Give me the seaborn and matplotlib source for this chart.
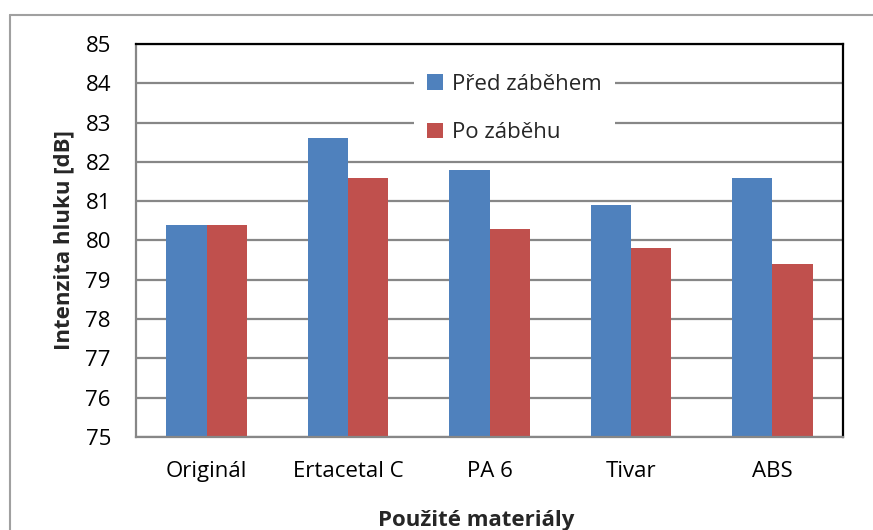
import matplotlib
matplotlib.use("Agg")
import matplotlib.pyplot as plt
import seaborn as sns
import pandas as pd
from matplotlib.lines import Line2D

categories = ["Originál", "Ertacetal C", "PA 6", "Tivar", "ABS"]
pred_zabehem = [80.4, 82.6, 81.8, 80.9, 81.6]
po_zabehu = [80.4, 81.6, 80.3, 79.8, 79.4]
series_names = ["Před záběhem", "Po záběhu"]
y_ticks = [75, 76, 77, 78, 79, 80, 81, 82, 83, 84, 85]

df = pd.DataFrame({
    "Materiál": categories * 2,
    "Hodnota": pred_zabehem + po_zabehu,
    "Série": [series_names[0]] * len(categories) + [series_names[1]] * len(categories),
})

sns.set_theme(style="white")
plt.rcParams['font.family'] = ['Open Sans', 'DejaVu Sans']

W, H = 873, 530
fig = plt.figure(figsize=(W / 100, H / 100), dpi=100)
ax = fig.add_axes([136 / W, 1 - 437 / H, (843 - 136) / W, (437 - 44) / H])

palette = {series_names[0]: "#4F81BD", series_names[1]: "#C0504D"}
sns.barplot(data=df, x="Materiál", y="Hodnota", hue="Série", palette=palette,
            width=0.57, saturation=1, ax=ax, gap=0, edgecolor="none", linewidth=0)

ax.set_ylim(75, 85)
ax.set_yticks(y_ticks)
ax.set_xlim(-0.5, len(categories) - 0.5)
ax.yaxis.grid(True, color="#878787", linewidth=1.6)
ax.set_axisbelow(True)

for s in ["left", "bottom"]:
    ax.spines[s].set_color("#878787")
    ax.spines[s].set_linewidth(1.6)
for s in ["top", "right"]:
    ax.spines[s].set_color("black")
    ax.spines[s].set_linewidth(1.6)

ax.tick_params(axis="y", length=0, labelsize=16, colors="black", pad=18)
ax.tick_params(axis="x", length=0, labelsize=16, colors="black", pad=17.5)
ax.set_xlabel("Použité materiály", fontsize=16, fontweight="bold", labelpad=20)
ax.xaxis.label.set_x((476 - 136) / (843 - 136))
ax.set_ylabel("Intenzita hluku [dB]", fontsize=16, fontweight="bold", labelpad=8)

leg = ax.legend(loc="upper center", bbox_to_anchor=(0.535, 0.987), frameon=True,
                facecolor="white", edgecolor="none", fontsize=16,
                handlelength=0.7, handleheight=0.7, handletextpad=0.4,
                labelspacing=1.25, borderpad=0.6, framealpha=1, fancybox=False)

# outer chart frame
fig.add_artist(Line2D([10 / W, 10 / W], [0, 1 - 15 / H], color="#A0A0A0", lw=1.5))
fig.add_artist(Line2D([10 / W, 1], [1 - 15 / H, 1 - 15 / H], color="#A0A0A0", lw=1.5))

fig.savefig("out.png", dpi=100, facecolor="white")
